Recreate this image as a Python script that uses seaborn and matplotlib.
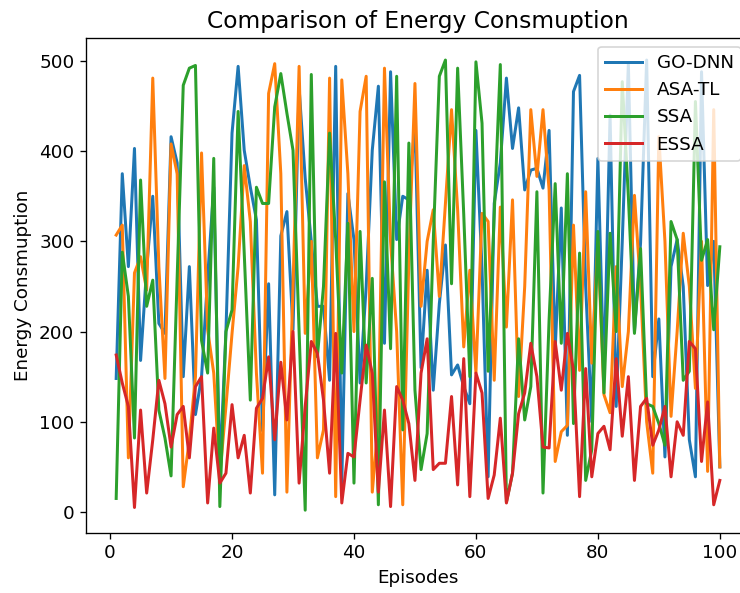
import numpy as np
import pandas as pd
import matplotlib
matplotlib.use("Agg")
import matplotlib.pyplot as plt
import seaborn as sns

episodes = list(range(1, 101))
go_dnn = [148, 375, 272, 403, 168, 270, 350, 209, 198, 416, 387, 150, 272, 108, 150, 260, 360, 45, 200, 420,
          494, 401, 360, 324, 90, 253, 19, 306, 333, 202, 470, 370, 300, 228, 228, 146, 494, 32, 353, 302,
          143, 250, 401, 472, 187, 488, 302, 350, 346, 431, 160, 268, 135, 231, 296, 152, 163, 139, 120, 423,
          270, 39, 342, 387, 481, 403, 448, 357, 379, 381, 359, 423, 180, 337, 85, 466, 484, 250, 100, 392,
          150, 440, 117, 300, 497, 200, 298, 501, 150, 214, 61, 272, 302, 250, 80, 39, 488, 251, 300, 50]
asa_tl = [307, 318, 60, 265, 283, 246, 481, 272, 148, 408, 375, 28, 80, 150, 398, 202, 154, 40, 117, 198,
          272, 384, 322, 154, 43, 464, 497, 375, 22, 250, 494, 198, 300, 60, 91, 481, 17, 479, 375, 200,
          444, 483, 22, 100, 492, 300, 200, 8, 280, 475, 228, 300, 335, 239, 342, 446, 335, 183, 268, 154,
          331, 322, 146, 338, 205, 346, 128, 250, 446, 372, 446, 357, 56, 89, 96, 318, 157, 355, 165, 300,
          130, 110, 272, 139, 200, 351, 250, 100, 43, 416, 300, 106, 200, 309, 250, 137, 300, 45, 446, 50]
ssa = [15, 288, 239, 82, 368, 228, 257, 113, 82, 40, 260, 473, 492, 495, 190, 154, 392, 6, 200, 224,
       444, 287, 124, 360, 342, 342, 449, 486, 442, 401, 200, 2, 485, 172, 250, 420, 302, 154, 320, 32,
       311, 143, 259, 8, 366, 181, 483, 91, 409, 135, 47, 87, 300, 483, 501, 253, 492, 330, 150, 499,
       431, 156, 330, 496, 11, 43, 192, 102, 139, 355, 21, 213, 364, 187, 375, 98, 287, 35, 69, 311,
       132, 309, 200, 477, 350, 198, 292, 120, 117, 98, 74, 322, 302, 146, 156, 455, 279, 302, 202, 294]
essa = [174, 143, 117, 5, 113, 21, 80, 146, 120, 72, 108, 117, 60, 139, 150, 10, 93, 32, 43, 119,
        60, 85, 21, 115, 126, 172, 80, 166, 102, 200, 32, 117, 189, 176, 124, 43, 198, 10, 65, 61,
        124, 185, 154, 22, 113, 6, 139, 124, 98, 35, 154, 192, 47, 54, 54, 128, 30, 170, 17, 154,
        132, 15, 41, 104, 10, 43, 109, 132, 187, 150, 72, 71, 189, 135, 198, 157, 17, 159, 39, 87,
        95, 69, 170, 84, 150, 35, 117, 126, 74, 91, 117, 39, 100, 85, 189, 181, 56, 122, 8, 35]
methods = ['GO-DNN', 'ASA-TL', 'SSA', 'ESSA']

df = pd.DataFrame({
    'Episodes': episodes * 4,
    'Energy': go_dnn + asa_tl + ssa + essa,
    'Method': [m for m in methods for _ in episodes],
})

plt.rcParams['font.size'] = 11
fig = plt.figure(figsize=(740 / 120, 593 / 120), dpi=120)
# right edge of the axes falls just outside the picture, as in the reference crop
ax = fig.add_axes([86 / 740, 0.1017, 664 / 740, 0.835])
sns.lineplot(data=df, x='Episodes', y='Energy', hue='Method', hue_order=methods,
             palette=['#1f77b4', '#ff7f0e', '#2ca02c', '#d62728'], linewidth=1.8, ax=ax)
ax.set_title('Comparison of Energy Consmuption', fontsize=14)
ax.set_xlabel('Episodes', fontsize=11)
ax.set_ylabel('Energy Consmuption', fontsize=11)
ax.tick_params(labelsize=11)
ax.legend(loc='upper right', fontsize=11)
fig.savefig('out.png', dpi=120)
plt.close(fig)
